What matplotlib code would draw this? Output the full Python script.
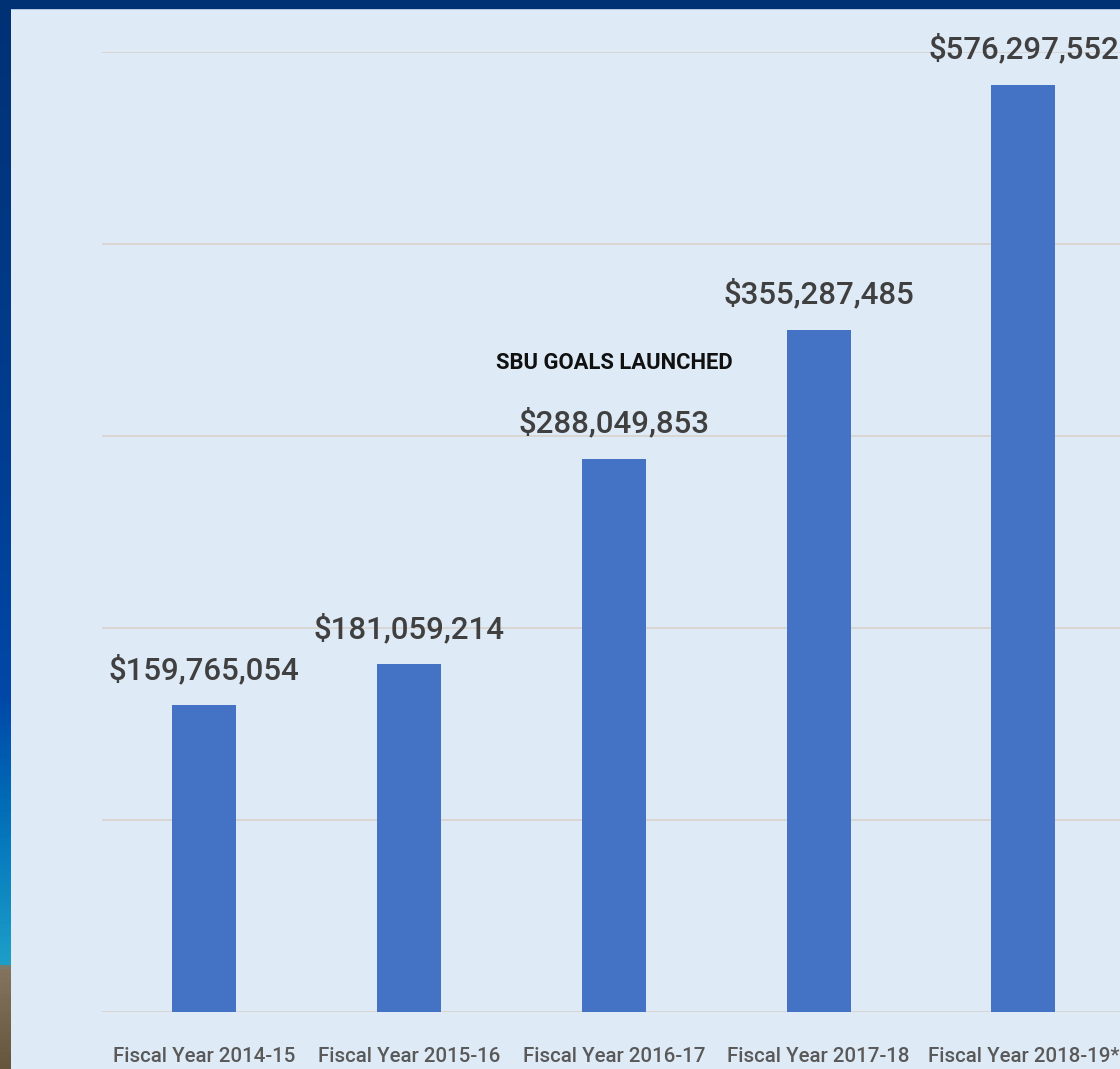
import matplotlib
matplotlib.use("Agg")
import matplotlib.pyplot as plt
import numpy as np
from matplotlib.colors import LinearSegmentedColormap
from matplotlib.patches import Rectangle

# ---- data ----
categories = ["Fiscal Year 2014-15", "Fiscal Year 2015-16", "Fiscal Year 2016-17",
              "Fiscal Year 2017-18", "Fiscal Year 2018-19*"]
# bar heights as drawn (millions of dollars)
bar_heights = [159.77, 181.06, 288.05, 355.29, 483.0]
value_labels = ["$159,765,054", "$181,059,214", "$288,049,853",
                "$355,287,485", "$576,297,552"]
annotation_text = "SBU GOALS LAUNCHED"
annotation_index = 2
annotation_y = 335.0
y_ticks = [0, 100, 200, 300, 400, 500]

plt.rcParams['font.family'] = ['Roboto', 'DejaVu Sans']

W, H = 1120, 1069
fig = plt.figure(figsize=(W / 100, H / 100), dpi=100, facecolor="#DEEAF6")

# frame: top band
fig.patches.append(Rectangle((0, 1 - 8 / H), 1, 8 / H, transform=fig.transFigure,
                             color="#003175", zorder=0))
# left gradient strip
lax = fig.add_axes([0, 0, 11 / W, 1 - 8 / H])
lax.axis("off")
stops = [(0.0, "#003175"), (0.28, "#003a88"), (0.46, "#003f95"), (0.65, "#0048a8"),
         (0.74, "#0068b5"), (0.81, "#0a80c0"), (0.905, "#1da0c8"),
         (0.906, "#857560"), (1.0, "#66563e")]
cmap = LinearSegmentedColormap.from_list("edge", stops)
grad = np.linspace(0, 1, 1061).reshape(-1, 1)
lax.imshow(grad, aspect="auto", cmap=cmap, extent=[0, 1, 0, 1])

# main axes
left = 102 / W
bottom = (H - 1012) / H
top = (H - 52) / H
ax = fig.add_axes([left, bottom, 1023.75 / W, top - bottom])
ax.set_facecolor("none")
x = np.arange(len(categories))
ax.bar(x, bar_heights, width=0.3125, color="#4472C4", zorder=3)
ax.set_xlim(-0.5, 4.5)
ax.set_ylim(0, 500)
ax.set_yticks(y_ticks)
ax.yaxis.grid(True, color="#D8D3CF", linewidth=1.3)
ax.set_axisbelow(True)
ax.tick_params(axis="y", left=False, labelleft=False)
ax.tick_params(axis="x", bottom=False, pad=22)
ax.set_xticks(x)
ax.set_xticklabels(categories, fontsize=14.8, color="#595959", fontweight="medium")
for s in ax.spines.values():
    s.set_visible(False)

for xi, h, lab in zip(x, bar_heights, value_labels):
    ax.annotate(lab, (xi, h), xytext=(0, 19), textcoords="offset points",
                ha="center", va="baseline", fontsize=22.5, color="#404040",
                fontweight="medium", clip_on=False, zorder=5)

ax.text(annotation_index, annotation_y, annotation_text, ha="center", va="baseline",
        fontsize=15.8, fontweight="bold", color="#111111", zorder=5)

fig.savefig("out.png", dpi=100, facecolor=fig.get_facecolor())
